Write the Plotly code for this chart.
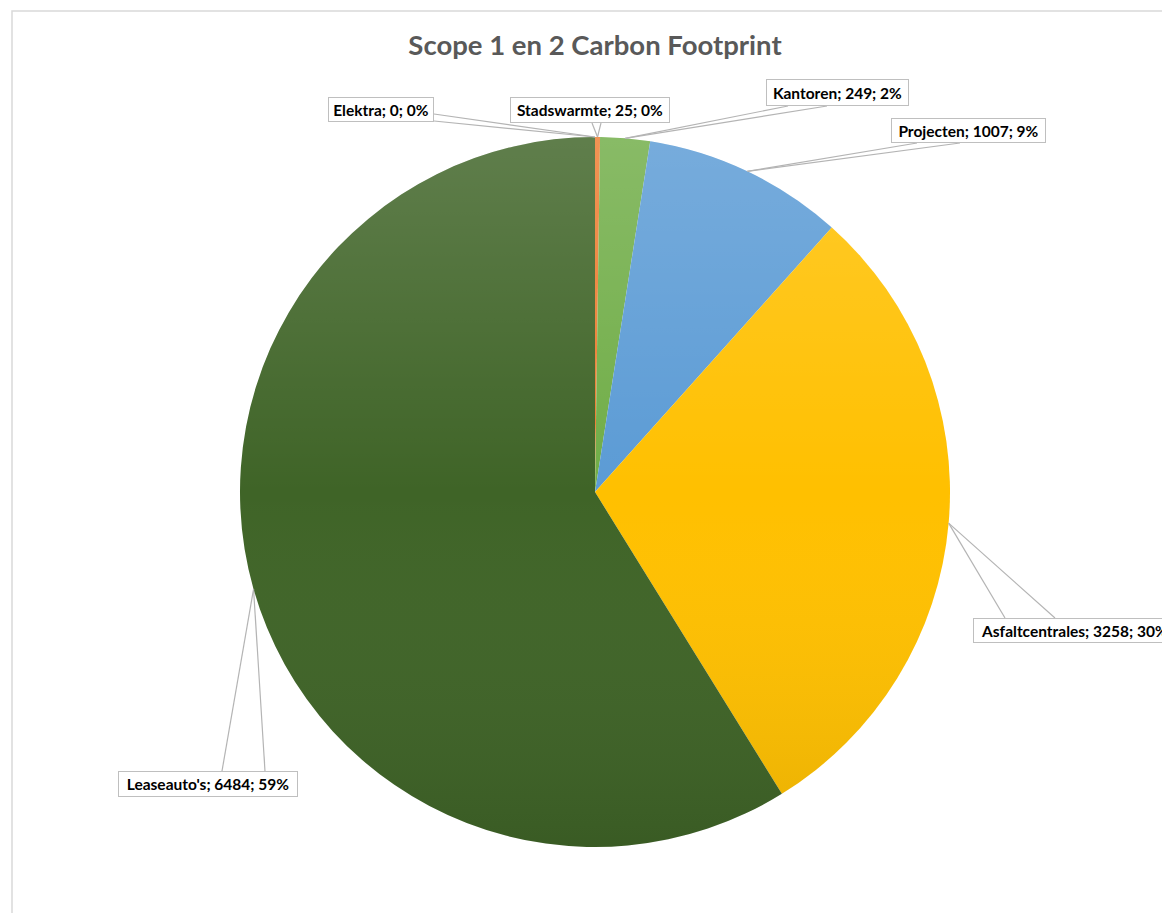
import base64
import math
import plotly.graph_objects as go

# ---- data ----
categories = ["Elektra", "Stadswarmte", "Kantoren", "Projecten", "Asfaltcentrales", "Leaseauto's"]
values = [0, 25, 249, 1007, 3258, 6484]
colors = ["#a5a5a5", "#ed7d31", "#70ad47", "#5b9bd5", "#ffc000", "#3f6427"]
title_text = "Scope 1 en 2 Carbon Footprint"

# ---- layout geometry (pixels) ----
W, H = 1162, 913
CX, CY, R = 595, 492, 355

# label boxes: (x0, y0, x1, y1) in pixels and wedge base points
label_boxes = {
    "Elektra": (328, 97, 434, 122),
    "Stadswarmte": (510, 97, 670, 123),
    "Kantoren": (766, 79, 909, 106),
    "Projecten": (891, 118, 1046, 143),
    "Asfaltcentrales": (973, 618, 1176, 643),
    "Leaseauto's": (118, 771, 298, 797),
}
wedge_bases = {
    "Elektra": ((434, 114), (434, 121)),
    "Stadswarmte": ((592, 123), (601, 123)),
    "Kantoren": ((788, 106), (827, 106)),
    "Projecten": ((917, 143), (960, 143)),
    "Asfaltcentrales": ((1005, 618), (1055, 618)),
    "Leaseauto's": ((222, 771), (265, 771)),
}


def px(x):
    return x / W


def py(y):
    return 1 - y / H


fig = go.Figure()
fig.add_trace(go.Pie(
    labels=categories,
    values=values,
    sort=False,
    direction="clockwise",
    rotation=0,
    marker=dict(colors=colors, line=dict(width=0)),
    textinfo="none",
    hoverinfo="label+value+percent",
    showlegend=False,
    domain=dict(x=[px(CX - R), px(CX + R)], y=[py(CY + R), py(CY - R)]),
))

total = sum(values)
annotations = []
shapes = []
cum = 0
for cat, val in zip(categories, values):
    mid = (cum + val / 2) / total * 2 * math.pi
    cum += val
    ax_ = CX + R * math.sin(mid)
    ay_ = CY - R * math.cos(mid)
    pct = round(val / total * 100)
    x0, y0, x1, y1 = label_boxes[cat]
    pad = 2
    annotations.append(dict(
        text=f"<b>{cat}; {val}; {pct}%</b>",
        xref="paper", yref="paper",
        x=px(x0), y=py((y0 + y1) / 2),
        xanchor="left", yanchor="middle",
        showarrow=False,
        width=(x1 - x0) - 2 * pad - 2,
        height=(y1 - y0) - 2 * pad - 2,
        align="center",
        bgcolor="white",
        bordercolor="#bfbfbf",
        borderwidth=1,
        borderpad=pad,
        font=dict(family="Lato, 'Open Sans', sans-serif", size=15.5, color="#000000"),
    ))
    for bx, by in wedge_bases[cat]:
        shapes.append(dict(
            type="line", xref="paper", yref="paper",
            x0=px(bx), y0=py(by), x1=px(ax_), y1=py(ay_),
            line=dict(color="#b4b4b4", width=1.2),
            layer="above",
        ))

# chart area border
shapes.append(dict(
    type="rect", xref="paper", yref="paper",
    x0=px(12), y0=-0.05, x1=1.05, y1=py(11),
    line=dict(color="#d9d9d9", width=1.5),
    layer="below",
))

# soft vertical gradient over the pie
svg = (
    "<svg xmlns='http://www.w3.org/2000/svg' width='200' height='200' viewBox='0 0 200 200'>"
    "<defs><linearGradient id='g' x1='0' y1='0' x2='0' y2='1'>"
    "<stop offset='0' stop-color='#ffffff' stop-opacity='0.17'/>"
    "<stop offset='0.5' stop-color='#ffffff' stop-opacity='0'/>"
    "<stop offset='1' stop-color='#000000' stop-opacity='0.09'/>"
    "</linearGradient></defs>"
    "<circle cx='100' cy='100' r='100' fill='url(#g)'/></svg>"
)
src = "data:image/svg+xml;base64," + base64.b64encode(svg.encode()).decode()

fig.update_layout(
    width=W, height=H,
    margin=dict(l=0, r=0, t=0, b=0),
    paper_bgcolor="white",
    plot_bgcolor="white",
    title=dict(
        text=f"<b>{title_text}</b>",
        x=px(CX), xanchor="center",
        y=py(45), yref="paper", yanchor="middle",
        font=dict(family="Lato, 'Open Sans', sans-serif", size=27.5, color="#595959"),
    ),
    annotations=annotations,
    shapes=shapes,
    images=[dict(
        source=src, xref="paper", yref="paper",
        x=px(CX - R), y=py(CY - R),
        sizex=2 * R / W, sizey=2 * R / H,
        xanchor="left", yanchor="top",
        sizing="stretch", layer="above",
    )],
)

fig.write_html(
    "out.html",
    config={"displayModeBar": False},
    post_script="document.body.style.margin='0px'; document.body.style.overflow='hidden';",
)
